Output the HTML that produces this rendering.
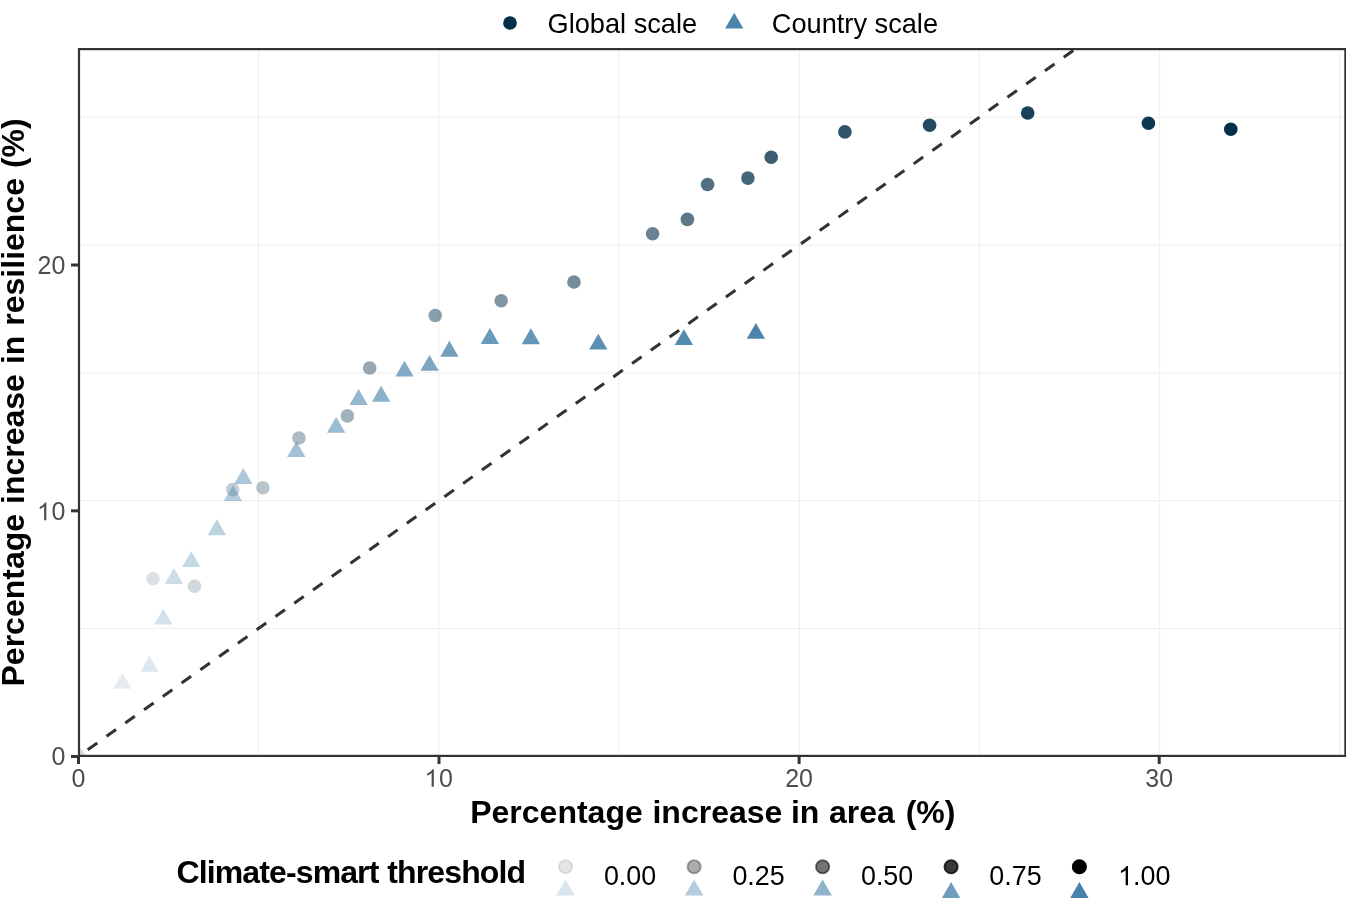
<!DOCTYPE html>
<html lang="en"><head><meta charset="utf-8"><title>Percentage increase in resilience vs area</title>
<style>
html,body{margin:0;padding:0;background:#fff;}
body{width:1346px;height:898px;overflow:hidden;}
svg{display:block;will-change:transform;}
text{font-family:"Liberation Sans",sans-serif;}
.ax{font-size:25.30px;fill:#4d4d4d;}
.lg{font-size:27.20px;fill:#000;}
.tt{font-weight:bold;fill:#000;}
</style></head><body>
<svg width="1346" height="898" viewBox="0 0 1346 898">
<rect x="0" y="0" width="1346" height="898" fill="#ffffff"/>
<defs><clipPath id="pc"><rect x="79.0" y="49.1" width="1266.4" height="706.8"/></clipPath></defs>
<g stroke="#ebebeb" stroke-width="0.85" fill="none">
<line x1="258.5" y1="49.1" x2="258.5" y2="755.9"/>
<line x1="438.75" y1="49.1" x2="438.75" y2="755.9"/>
<line x1="618.9" y1="49.1" x2="618.9" y2="755.9"/>
<line x1="799.4" y1="49.1" x2="799.4" y2="755.9"/>
<line x1="979.4" y1="49.1" x2="979.4" y2="755.9"/>
<line x1="1159.65" y1="49.1" x2="1159.65" y2="755.9"/>
<line x1="1339.6" y1="49.1" x2="1339.6" y2="755.9"/>
<line x1="79.0" y1="628.45" x2="1345.4" y2="628.45"/>
<line x1="79.0" y1="500.7" x2="1345.4" y2="500.7"/>
<line x1="79.0" y1="372.9" x2="1345.4" y2="372.9"/>
<line x1="79.0" y1="245.3" x2="1345.4" y2="245.3"/>
<line x1="79.0" y1="117.2" x2="1345.4" y2="117.2"/>
</g>
<g clip-path="url(#pc)">
<line x1="79.0" y1="755.86" x2="1100.0" y2="31.66" stroke="#333333" stroke-width="3.05" stroke-dasharray="11.7 11.312" stroke-dashoffset="12.3" fill="none"/>
<circle cx="79" cy="755.9" r="6.8" fill="rgba(1,46,74,0.1)"/>
<polygon points="79.00,745.33 88.16,761.19 69.84,761.19" fill="rgba(75,133,172,0.1)"/>
<circle cx="153.0" cy="578.7" r="6.8" fill="rgba(1,46,74,0.145)"/>
<circle cx="194.5" cy="586.2" r="6.8" fill="rgba(1,46,74,0.190)"/>
<circle cx="232.7" cy="489.6" r="6.8" fill="rgba(1,46,74,0.235)"/>
<circle cx="262.9" cy="487.8" r="6.8" fill="rgba(1,46,74,0.280)"/>
<circle cx="298.96" cy="438.0" r="6.8" fill="rgba(1,46,74,0.325)"/>
<circle cx="347.4" cy="415.9" r="6.8" fill="rgba(1,46,74,0.370)"/>
<circle cx="369.7" cy="368.0" r="6.8" fill="rgba(1,46,74,0.415)"/>
<circle cx="435.2" cy="315.5" r="6.8" fill="rgba(1,46,74,0.460)"/>
<circle cx="501.2" cy="300.8" r="6.8" fill="rgba(1,46,74,0.505)"/>
<circle cx="573.95" cy="282.0" r="6.8" fill="rgba(1,46,74,0.550)"/>
<circle cx="652.6" cy="233.7" r="6.8" fill="rgba(1,46,74,0.595)"/>
<circle cx="687.4" cy="219.4" r="6.8" fill="rgba(1,46,74,0.640)"/>
<circle cx="707.6" cy="184.5" r="6.8" fill="rgba(1,46,74,0.685)"/>
<circle cx="747.9" cy="178.1" r="6.8" fill="rgba(1,46,74,0.730)"/>
<circle cx="771.2" cy="157.3" r="6.8" fill="rgba(1,46,74,0.775)"/>
<circle cx="844.9" cy="131.9" r="6.8" fill="rgba(1,46,74,0.820)"/>
<circle cx="929.6" cy="125.2" r="6.8" fill="rgba(1,46,74,0.865)"/>
<circle cx="1027.7" cy="113.0" r="6.8" fill="rgba(1,46,74,0.910)"/>
<circle cx="1148.4" cy="123.2" r="6.8" fill="rgba(1,46,74,0.955)"/>
<circle cx="1230.8" cy="129.2" r="6.8" fill="rgba(1,46,74,1.000)"/>
<polygon points="122.45,672.93 131.61,688.79 113.29,688.79" fill="rgba(75,133,172,0.145)"/>
<polygon points="149.55,655.83 158.71,671.69 140.39,671.69" fill="rgba(75,133,172,0.190)"/>
<polygon points="163.30,608.63 172.46,624.49 154.14,624.49" fill="rgba(75,133,172,0.235)"/>
<polygon points="173.90,568.03 183.06,583.89 164.74,583.89" fill="rgba(75,133,172,0.280)"/>
<polygon points="191.30,551.13 200.46,566.99 182.14,566.99" fill="rgba(75,133,172,0.325)"/>
<polygon points="216.90,519.33 226.06,535.19 207.74,535.19" fill="rgba(75,133,172,0.370)"/>
<polygon points="232.90,485.03 242.06,500.89 223.74,500.89" fill="rgba(75,133,172,0.415)"/>
<polygon points="243.30,468.03 252.46,483.89 234.14,483.89" fill="rgba(75,133,172,0.460)"/>
<polygon points="296.30,441.13 305.46,456.99 287.14,456.99" fill="rgba(75,133,172,0.505)"/>
<polygon points="336.15,416.93 345.31,432.79 326.99,432.79" fill="rgba(75,133,172,0.550)"/>
<polygon points="358.60,389.03 367.76,404.89 349.44,404.89" fill="rgba(75,133,172,0.595)"/>
<polygon points="381.10,385.83 390.26,401.69 371.94,401.69" fill="rgba(75,133,172,0.640)"/>
<polygon points="404.50,360.63 413.66,376.49 395.34,376.49" fill="rgba(75,133,172,0.685)"/>
<polygon points="429.50,354.93 438.66,370.79 420.34,370.79" fill="rgba(75,133,172,0.730)"/>
<polygon points="449.40,340.83 458.56,356.69 440.24,356.69" fill="rgba(75,133,172,0.775)"/>
<polygon points="489.90,328.03 499.06,343.89 480.74,343.89" fill="rgba(75,133,172,0.820)"/>
<polygon points="530.90,328.33 540.06,344.19 521.74,344.19" fill="rgba(75,133,172,0.865)"/>
<polygon points="598.30,333.63 607.46,349.49 589.14,349.49" fill="rgba(75,133,172,0.910)"/>
<polygon points="683.90,329.23 693.06,345.09 674.74,345.09" fill="rgba(75,133,172,0.955)"/>
<polygon points="755.90,322.93 765.06,338.79 746.74,338.79" fill="rgba(75,133,172,1.000)"/>
</g>
<rect x="79.0" y="49.1" width="1266.4" height="706.8" fill="none" stroke="#333333" stroke-width="2.2"/>
<g stroke="#333333" stroke-width="3.0" fill="none">
<line x1="78.5" y1="757" x2="78.5" y2="763.95"/>
<line x1="439.0" y1="757" x2="439.0" y2="763.95"/>
<line x1="799.1" y1="757" x2="799.1" y2="763.95"/>
<line x1="1159.2" y1="757" x2="1159.2" y2="763.95"/>
<line x1="71" y1="756.5" x2="78" y2="756.5"/>
<line x1="71" y1="510.85" x2="78" y2="510.85"/>
<line x1="71" y1="265.0" x2="78" y2="265.0"/>
</g>
<text transform="translate(71.55,786.85) scale(1,1.0)" font-size="25" fill="#4d4d4d">0</text>
<path d="M763 0L583 0L583 1147Q518 1085 412.5 1023Q307 961 223 930L223 1104Q374 1175 487 1276Q600 1377 647 1472L763 1472Z" fill="#4d4d4d" transform="translate(424.50,786.85) scale(0.01221,-0.01202)"/><text transform="translate(439.00,786.85) scale(1,1.0)" font-size="25" fill="#4d4d4d">0</text>
<text transform="translate(785.20,786.85) scale(1,1.0)" font-size="25" fill="#4d4d4d">20</text>
<text transform="translate(1145.30,786.85) scale(1,1.0)" font-size="25" fill="#4d4d4d">30</text>
<text transform="translate(51.50,765.35) scale(1,1.0)" font-size="25" fill="#4d4d4d">0</text>
<path d="M763 0L583 0L583 1147Q518 1085 412.5 1023Q307 961 223 930L223 1104Q374 1175 487 1276Q600 1377 647 1472L763 1472Z" fill="#4d4d4d" transform="translate(36.99,520.30) scale(0.01221,-0.01202)"/><text transform="translate(51.50,520.30) scale(1,1.0)" font-size="25" fill="#4d4d4d">0</text>
<text transform="translate(37.59,274.15) scale(1,1.0)" font-size="25" fill="#4d4d4d">20</text>
<text class="tt" x="712.85" y="823.3" text-anchor="middle" word-spacing="0.8" font-size="32">Percentage increase <tspan dx="-1.1">in</tspan> area <tspan dx="1.1">(%)</tspan></text>
<text class="tt" transform="translate(24.3,402.4) rotate(-90)" text-anchor="middle" word-spacing="1.1" font-size="32">Percentage increase in resilience (%)</text>
<circle cx="510" cy="23.0" r="6.85" fill="rgb(1,46,74)"/>
<text class="lg" x="547.5" y="33">Global scale</text>
<polygon points="734.20,12.63 743.36,28.49 725.04,28.49" fill="rgb(75,133,172)"/>
<text class="lg" x="771.8" y="33.1">Country scale</text>
<text class="tt" x="176.5" y="882.9" font-size="32" letter-spacing="-0.88" word-spacing="0.8">Climate-smart threshold</text>
<circle cx="565.5" cy="866.75" r="6.6" fill="rgba(0,0,0,0.1)" stroke="rgba(0,0,0,0.1)" stroke-width="1.9"/>
<polygon points="565.50,879.47 574.79,895.57 556.21,895.57" fill="#d9e5ed"/>
<text transform="translate(603.90,885.35) scale(1,1.02)" font-size="26.9" fill="#000">0.00</text>
<circle cx="694.1" cy="866.75" r="6.6" fill="rgba(0,0,0,0.325)" stroke="rgba(0,0,0,0.325)" stroke-width="1.9"/>
<polygon points="694.10,879.47 703.39,895.57 684.81,895.57" fill="#b5cddc"/>
<text transform="translate(732.40,885.35) scale(1,1.02)" font-size="26.9" fill="#000">0.25</text>
<circle cx="822.6" cy="866.75" r="6.6" fill="rgba(0,0,0,0.55)" stroke="rgba(0,0,0,0.55)" stroke-width="1.9"/>
<polygon points="822.60,879.47 831.89,895.57 813.31,895.57" fill="#8fb3cb"/>
<text transform="translate(860.95,885.35) scale(1,1.02)" font-size="26.9" fill="#000">0.50</text>
<circle cx="951.1" cy="866.75" r="6.6" fill="rgba(0,0,0,0.775)" stroke="rgba(0,0,0,0.775)" stroke-width="1.9"/>
<polygon points="951.10,882.07 960.39,898.17 941.81,898.17" fill="#6e9dbd"/>
<text transform="translate(989.30,885.35) scale(1,1.02)" font-size="26.9" fill="#000">0.75</text>
<circle cx="1079.4" cy="866.75" r="6.6" fill="rgba(0,0,0,1.0)" stroke="rgba(0,0,0,1.0)" stroke-width="1.9"/>
<polygon points="1079.40,882.07 1088.69,898.17 1070.11,898.17" fill="#4682a9"/>
<path d="M763 0L583 0L583 1147Q518 1085 412.5 1023Q307 961 223 930L223 1104Q374 1175 487 1276Q600 1377 647 1472L763 1472Z" fill="#000" transform="translate(1118.00,885.35) scale(0.01313,-0.01320)"/><text transform="translate(1132.96,885.35) scale(1,1.02)" font-size="26.9" fill="#000">.00</text>
</svg>
</body></html>
